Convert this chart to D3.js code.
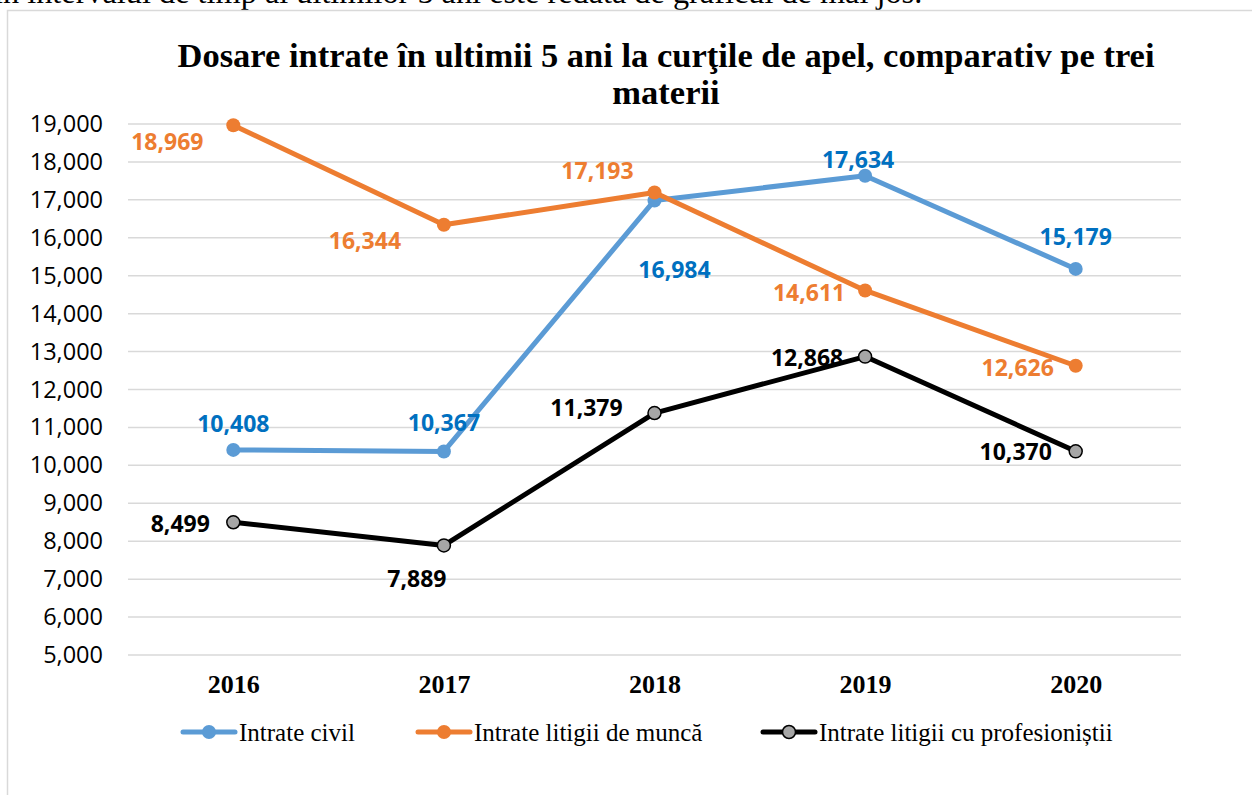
<!DOCTYPE html>
<html>
<head>
<meta charset="utf-8">
<script src="https://cdn.jsdelivr.net/npm/d3@7"></script>
<style>
  body { margin: 0; background: #fff; }
</style>
</head>
<body>
<div class="chart"></div>
<script>
const years = ["2016", "2017", "2018", "2019", "2020"];
const civil = [10408, 10367, 16984, 17634, 15179];
const munca = [18969, 16344, 17193, 14611, 12626];
const profesionisti = [8499, 7889, 11379, 12868, 10370];
const yTicks = [5000, 6000, 7000, 8000, 9000, 10000, 11000, 12000, 13000, 14000, 15000, 16000, 17000, 18000, 19000];
const seriesNames = ["Intrate civil", "Intrate litigii de muncă", "Intrate litigii cu profesioniștii"];

const W = 1252, H = 795;
const svg = d3.select('.chart')
    .append('svg')
    .attr('width', W)
    .attr('height', H);

// bit of the document text above the chart
svg.append('text')
    .attr('x', -6)
    .attr('y', 3)
    .style('font-family', '"Liberation Serif", serif')
    .style('font-size', '32.3px')
    .text('în intervalul de timp al ultimilor 5 ani este redată de graficul de mai jos.');

// chart frame
svg.append('rect')
    .attr('x', 7.5)
    .attr('y', 10.5)
    .attr('width', 1300)
    .attr('height', 900)
    .attr('fill', 'none')
    .attr('stroke', '#d9d9d9')
    .attr('stroke-width', 1.5);

const xScale = d3.scalePoint()
    .domain(years)
    .range([128, 1181])
    .padding(0.5);

const yScale = d3.scaleLinear()
    .domain([5000, 19000])
    .range([655, 124]);

const fmt = d3.format(',');

// gridlines
svg.append('g')
    .selectAll('line')
    .data(yTicks)
    .enter()
    .append('line')
        .attr('x1', 128)
        .attr('x2', 1181)
        .attr('y1', d => yScale(d))
        .attr('y2', d => yScale(d))
        .attr('stroke', '#d9d9d9')
        .attr('stroke-width', 1.5);

// y axis labels
const yAxis = d3.axisLeft(yScale)
    .tickValues(yTicks)
    .tickFormat(fmt)
    .tickSize(0)
    .tickPadding(25);

const yg = svg.append('g')
    .attr('transform', 'translate(128,0)')
    .call(yAxis);
yg.select('.domain').remove();
yg.selectAll('text')
    .style('font-family', '"Open Sans", sans-serif')
    .style('font-size', '23.5px')
    .attr('fill', '#000');

// x axis labels
const xAxis = d3.axisBottom(xScale).tickSize(0).tickPadding(20);
const xg = svg.append('g')
    .attr('transform', 'translate(0,655)')
    .call(xAxis);
xg.select('.domain').remove();
xg.selectAll('text')
    .style('font-family', '"Liberation Serif", serif')
    .style('font-size', '26px')
    .style('font-weight', 'bold')
    .attr('fill', '#000');

// title
svg.append('text')
    .attr('x', 666)
    .attr('y', 67)
    .attr('text-anchor', 'middle')
    .style('font-family', '"Liberation Serif", serif')
    .style('font-size', '34.5px')
    .style('font-weight', 'bold')
    .text('Dosare intrate în ultimii 5 ani la curţile de apel, comparativ pe trei');
svg.append('text')
    .attr('x', 666)
    .attr('y', 104)
    .attr('text-anchor', 'middle')
    .style('font-family', '"Liberation Serif", serif')
    .style('font-size', '34.5px')
    .style('font-weight', 'bold')
    .text('materii');

const series = [
    {name: seriesNames[0], values: civil, color: '#5b9bd5', fill: '#5b9bd5', stroke: 'none', labelColor: '#0070c0',
     offsets: [[0, -26], [0, -28], [20, 69], [-7, -16], [0, -32]]},
    {name: seriesNames[1], values: munca, color: '#ed7d31', fill: '#ed7d31', stroke: 'none', labelColor: '#ed7d31',
     offsets: [[-66, 17], [-79, 16], [-57, -22], [-56, 2], [-58, 2]]},
    {name: seriesNames[2], values: profesionisti, color: '#000', fill: '#a6a6a6', stroke: '#000', labelColor: '#000',
     offsets: [[-53, 2], [-27, 34], [-68, -5], [-58, 1], [-60, 1]]}
];

const line = d3.line()
    .x((d, i) => xScale(years[i]))
    .y(d => yScale(d));

series.forEach(s => {
    svg.append('path')
        .datum(s.values)
        .attr('d', line)
        .attr('fill', 'none')
        .attr('stroke', s.color)
        .attr('stroke-width', 5)
        .attr('stroke-linejoin', 'round');

    svg.append('g')
        .selectAll('circle')
        .data(s.values)
        .enter()
        .append('circle')
            .attr('cx', (d, i) => xScale(years[i]))
            .attr('cy', d => yScale(d))
            .attr('r', s.stroke === 'none' ? 7 : 6.5)
            .attr('fill', s.fill)
            .attr('stroke', s.stroke)
            .attr('stroke-width', 1.5);
});

// data labels drawn after all lines
series.forEach(s => {
    svg.append('g')
        .selectAll('text')
        .data(s.values)
        .enter()
        .append('text')
            .attr('x', (d, i) => xScale(years[i]) + s.offsets[i][0])
            .attr('y', (d, i) => yScale(d) + s.offsets[i][1])
            .attr('text-anchor', 'middle')
            .attr('dy', '0.35em')
            .style('font-family', '"Open Sans", sans-serif')
            .style('font-size', '23px')
            .style('font-weight', 'bold')
            .style('fill', s.labelColor)
            .text(d => fmt(d));
});

// legend
const legendX = [183, 418, 763];
const legend = svg.append('g')
    .selectAll('g')
    .data(series)
    .enter()
    .append('g')
        .attr('transform', (d, i) => `translate(${legendX[i]},732)`);

legend.append('line')
    .attr('x1', 0)
    .attr('x2', 52)
    .attr('stroke', d => d.color)
    .attr('stroke-width', 5)
    .attr('stroke-linecap', 'round');
legend.append('circle')
    .attr('cx', 26)
    .attr('r', d => d.stroke === 'none' ? 7 : 6.5)
    .attr('fill', d => d.fill)
    .attr('stroke', d => d.stroke)
    .attr('stroke-width', 1.5);
legend.append('text')
    .attr('x', 56)
    .attr('dy', '0.35em')
    .style('font-family', '"Liberation Serif", serif')
    .style('font-size', '25px')
    .text(d => d.name);
</script>
</body>
</html>
